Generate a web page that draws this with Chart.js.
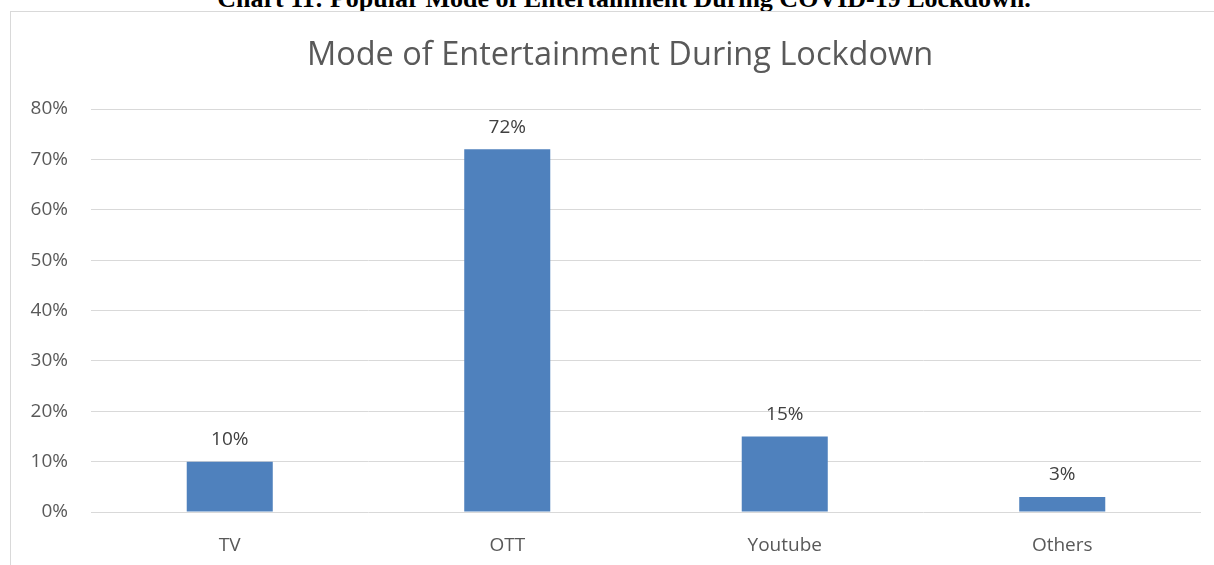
<!DOCTYPE html>
<html>
<head>
<meta charset="utf-8">
<script src="https://cdn.jsdelivr.net/npm/chart.js@4.4.1/dist/chart.umd.min.js"></script>
<style>
html,body{margin:0;padding:0;background:#fff;overflow:hidden;}
#caption{position:absolute;left:0;top:-16px;width:1248px;text-align:center;font-family:"Liberation Serif","Times New Roman",serif;font-weight:bold;font-size:26px;line-height:30px;color:#000;white-space:nowrap;}
#box{position:absolute;left:10px;top:11px;width:1220px;height:570px;border:1px solid #d9d9d9;background:#fff;}
#wrap{position:absolute;left:0;top:0;width:1203px;height:553px;}
</style>
</head>
<body>
<div id="caption">Chart 11: Popular Mode of Entertainment During COVID-19 Lockdown.</div>
<div id="box"><div id="wrap"><canvas id="chart"></canvas></div></div>
<script>
const categories=["TV","OTT","Youtube","Others"];
const shares=[10,72,15,3];
const yTicks=[0,10,20,30,40,50,60,70,80];
const chartTitle="Mode of Entertainment During Lockdown";

// draws the value above each bar, and the title centred over the whole frame
const valueLabels={
id:"valueLabels",
afterDatasetsDraw(chart){
let ctx=chart.ctx;
let meta=chart.getDatasetMeta(0);
ctx.save();
ctx.font="19px 'Open Sans', sans-serif";
ctx.fillStyle="#404040";
ctx.textAlign="center";
ctx.textBaseline="middle";
meta.data.forEach((bar,i)=>{
ctx.fillText(shares[i]+"%",bar.x,bar.y-22);
});
ctx.font="32.5px 'Open Sans', sans-serif";
ctx.fillStyle="#595959";
ctx.fillText(chartTitle,609,44);
ctx.restore();
}
};

new Chart(document.getElementById("chart"),{
type:"bar",
data:{
labels:categories,
datasets:[{
label:"Share",
data:shares,
backgroundColor:"#4f81bd",
barPercentage:0.62,
categoryPercentage:0.5
}]
},
options:{
responsive:true,
maintainAspectRatio:false,
animation:false,
layout:{padding:{left:0,right:13,top:97,bottom:0}},
plugins:{
legend:{display:false},
tooltip:{enabled:false},
title:{display:false}
},
scales:{
x:{
grid:{display:false},
border:{display:false},
ticks:{color:"#595959",font:{family:"'Open Sans', sans-serif",size:19},padding:14},
afterFit(scale){scale.height=53;}
},
y:{
min:0,
max:80,
afterBuildTicks(scale){scale.ticks=yTicks.map(v=>({value:v}));},
grid:{color:"#d9d9d9",lineWidth:1,drawTicks:false},
border:{display:false},
ticks:{
color:"#595959",
font:{family:"'Open Sans', sans-serif",size:19},
padding:23,
callback:v=>v+"%"
},
afterFit(scale){scale.width=80;}
}
}
},
plugins:[valueLabels]
});
</script>
</body>
</html>
